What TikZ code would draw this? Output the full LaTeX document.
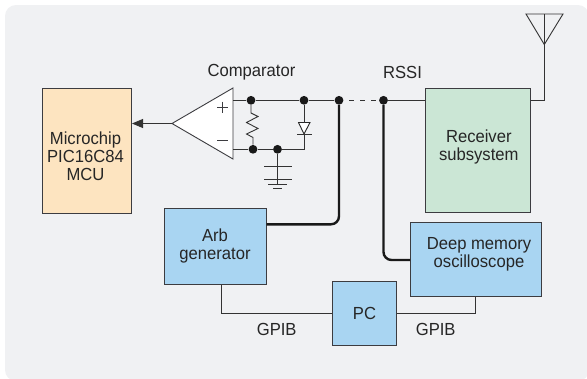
\documentclass[tikz,border=0pt]{standalone}
\usepackage{fontspec}
\setmainfont[FakeStretch=0.95]{Liberation Sans}
\usetikzlibrary{arrows.meta,positioning,calc}
\definecolor{panel}{HTML}{F0F1F3}
\definecolor{lineC}{HTML}{3C3C40}
\definecolor{blueB}{HTML}{A9D5F2}
\definecolor{greenB}{HTML}{CBE6D5}
\definecolor{orangeB}{HTML}{FDE4C0}
\tikzset{
  box/.style={draw=lineC,line width=1pt,align=center,text=black!85,font=\fontsize{17.5}{18}\selectfont,inner sep=0pt,anchor=north west},
  wire/.style={draw=black!80,line width=0.9pt},
  thick wire/.style={draw=black!90,line width=2.4pt,rounded corners=8pt},
  dot/.style={circle,fill=black!90,inner sep=0pt,minimum size=8.8pt},
  lbl/.style={text=black!85,font=\fontsize{17.5}{18}\selectfont,inner sep=0pt},
}
\begin{document}
\begin{tikzpicture}[x=1pt,y=-1pt]
\useasboundingbox (0,0) rectangle (587,378);
\fill[white] (0,0) rectangle (587,378);
\begin{scope}
\clip (0,0) rectangle (587,378);
\fill[panel,rounded corners=11pt] (5,5) rectangle (589,381);
\end{scope}
% boxes
\node[box,fill=orangeB,minimum width=89.5pt,minimum height=125.7pt] (mcu) at (41.5,87.5) {};
\node[lbl,align=center] (mcut) at (85.5,156) {Microchip\\PIC16C84\\MCU};
\node[box,fill=greenB,minimum width=104.5pt,minimum height=124.5pt] (rx) at (425.3,87.7) {};
\node[lbl,align=center] (rxt) at (478.8,146.5) {Receiver\\subsystem};
\node[box,fill=blueB,minimum width=102pt,minimum height=76.5pt] (arb) at (163.5,207.5) {Arb\\generator};
\node[box,fill=blueB,minimum width=64pt,minimum height=64.5pt] (pc) at (332,280.7) {PC};
\node[box,fill=blueB,minimum width=130.7pt,minimum height=74pt] (osc) at (410,221.7) {};
\node[lbl,align=center] (osct) at (479,254.5) {Deep memory\\oscilloscope};
% junction coordinates
\coordinate (apex) at (172,123.5);
\coordinate (bt) at (233,88);
\coordinate (bb) at (233,159);
\coordinate (inp) at (233,100.3);
\coordinate (inm) at (233,149.3);
\node[dot] (d1) at (251,100.3) {};
\node[dot] (d2) at (304,100.3) {};
\node[dot] (d3) at (339,100.3) {};
\node[dot] (d4) at (383.5,100.3) {};
\node[dot] (d5) at (253,149.3) {};
\node[dot] (d6) at (277.5,149.3) {};
% comparator
\draw[draw=lineC,line width=0.9pt,fill=white,line join=miter] (apex) -- (bt) -- (bb) -- cycle;
\draw[lineC,line width=0.9pt] (217,107) -- (228,107) (222.5,101.5) -- (222.5,112.5);
\draw[lineC,line width=0.9pt] (217,140.7) -- (227.5,140.7);
\draw[wire,-{Triangle[length=11pt,width=9pt]}] (apex) -- (apex -| mcu.east);
% top and bottom rails
\draw[wire] (inp) -- (d1) -- (d2) -- (d3);
\draw[wire] (inm) -- (d5) -- (d6) -- (304,149.3) -- (304,134);
\draw[wire,dash pattern=on 4.5pt off 6.5pt] (349,100.3) -- (d4);
\draw[wire] (d4) -- (d4 -| rx.west);
% resistor
\draw[wire,line join=miter] (d1) -- (251,113) -- (258,116.5) -- (246.5,122.5) -- (258,128.5) -- (246.5,134) -- (253,137.5) -- (d5);
% diode
\draw[draw=black!85,line width=0.9pt,fill=white] (298.5,122.5) -- (310,122.5) -- (304,134) -- cycle;
\draw[wire] (d2) -- (304,122.5);
\draw[wire] (297,134) -- (311.5,134);
% capacitor / ground
\draw[wire] (d6) -- (277.5,184);
\draw[wire] (264,166) -- (291.6,166);
\draw[wire] (264,179) -- (291.6,179);
\draw[wire] (268,184.3) -- (287,184.3);
\draw[wire] (273,188.5) -- (282,188.5);
% thick connections
\draw[thick wire] (d3) -- (339,224.3) -- (arb.east |- 0,224.3);
\draw[thick wire] (d4) -- (383.5,260) -- (osc.west |- 0,260);
% GPIB
\draw[wire] (arb.south -| 221.7,0) -- (221.7,313) -- (pc.west |- 0,313);
\draw[wire] (pc.east |- 0,313) -- (475,313) -- (osc.south -| 475,0);
% antenna
\coordinate (antb) at (544.3,44.5);
\draw[wire] (rx.east |- 0,100.3) -- (544.3,100.3) -- (544.3,14);
\draw[wire,line join=miter] (526,14) -- (563,14) -- (antb) -- cycle;
% labels
\node[lbl] (comp) at (251.5,72) {Comparator};
\node[lbl] (rssi) at (402.5,72) {RSSI};
\node[lbl] (g1) at (276.7,329) {GPIB};
\node[lbl] (g2) at (435.7,329) {GPIB};
\end{tikzpicture}
\end{document}
